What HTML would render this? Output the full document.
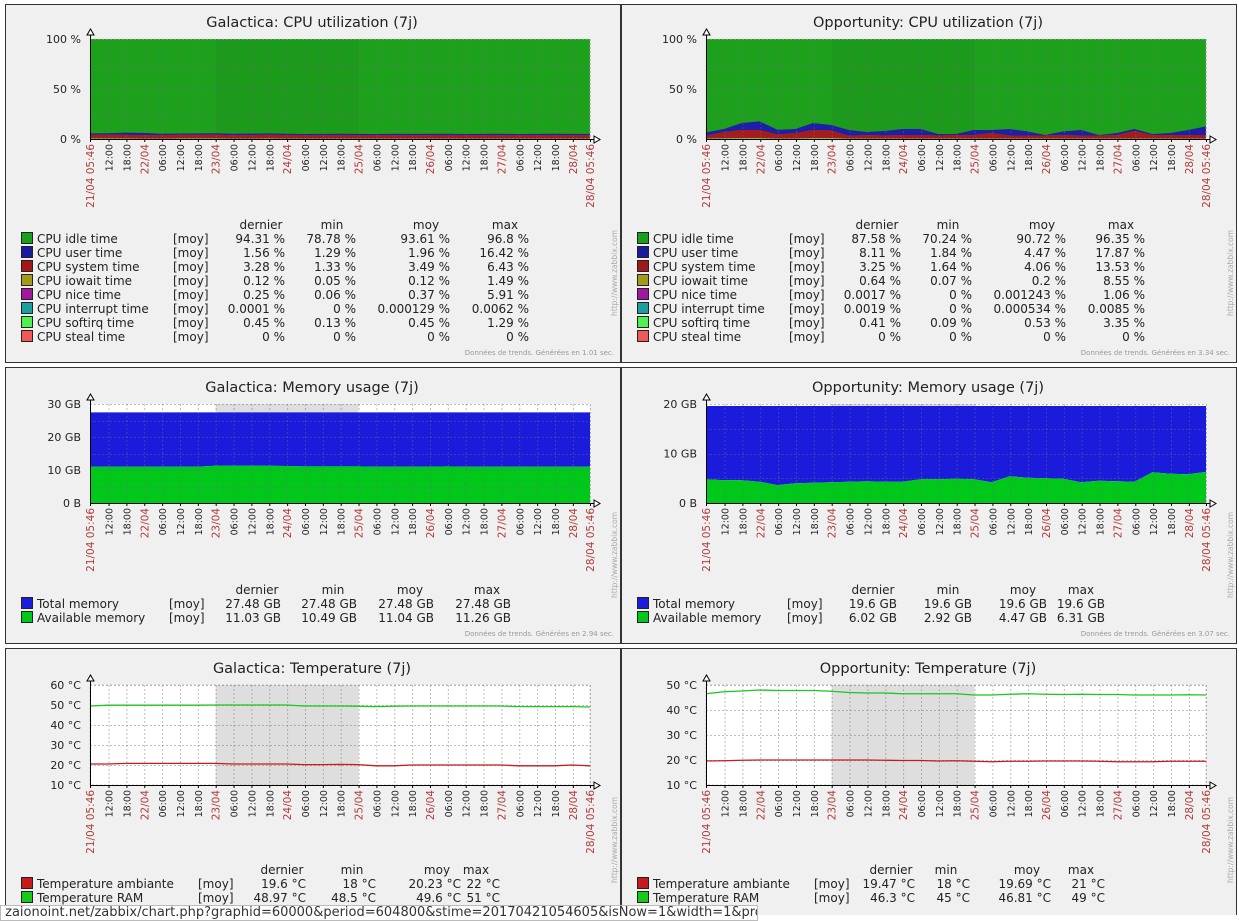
<!DOCTYPE html>
<html><head><meta charset="utf-8"><style>
html,body{margin:0;padding:0;background:#fff;}
body{width:1239px;height:915px;overflow:hidden;position:relative;font-family:"DejaVu Sans","Liberation Sans",sans-serif;}
svg text{font-family:"DejaVu Sans","Liberation Sans",sans-serif;}
#status{position:absolute;left:0;top:905px;width:756px;height:14px;background:#fff;border:1px solid #bbb;font-size:13px;line-height:13px;color:#333;overflow:hidden;white-space:nowrap;}
</style></head><body>
<svg id="page" width="1239" height="915" xmlns="http://www.w3.org/2000/svg"></svg>
<div id="status">&nbsp;zaionoint.net/zabbix/chart.php?graphid=60000&amp;period=604800&amp;stime=20170421054605&amp;isNow=1&amp;width=1&amp;profileIdx=web.screens&amp;sid=3c6d4c46ed6dbaf</div>
<script>
// time axis (hours after 21/04 05:46)
const tickLabels = ["21/04 05:46","12:00","18:00","22/04","06:00","12:00","18:00","23/04","06:00","12:00","18:00","24/04","06:00","12:00","18:00","25/04","06:00","12:00","18:00","26/04","06:00","12:00","18:00","27/04","06:00","12:00","18:00","28/04","28/04 05:46"];
const tickHours = [0,6.233,12.233,18.233,24.233,30.233,36.233,42.233,48.233,54.233,60.233,66.233,72.233,78.233,84.233,90.233,96.233,102.233,108.233,114.233,120.233,126.233,132.233,138.233,144.233,150.233,156.233,162.233,168];
const sampleHours = [0,6,12,18,24,30,36,42,48,54,60,66,72,78,84,90,96,102,108,114,120,126,132,138,144,150,156,162,168];
// Galactica CPU (%)
const galIowait = [0.6,0.6,0.6,0.3,0.3,0.6,0.6,0.6,0.3,0.3,0.6,0.3,0.2,0.2,0.2,0.2,0.2,0.2,0.2,0.2,0.2,0.2,0.2,0.2,0.2,0.2,0.2,0.2,0.2];
const galSystem = [3.6,3.6,3.6,3.6,3.6,3.6,3.6,3.6,3.6,3.6,3.6,3.6,3.6,3.6,3.6,3.6,3.6,3.6,3.6,3.6,3.6,3.6,3.6,3.6,3.6,3.6,3.6,3.6,3.6];
const galUser = [1.4,1.6,2.2,2.2,1.4,1.3,1.4,1.6,1.3,1.5,1.4,1.4,1.2,1.3,1.4,1.3,1.2,1.4,1.3,1.4,1.4,1.2,1.3,1.4,1.2,1.3,1.5,1.3,1.3];
// Opportunity CPU (%)
const oppIowait = [0.5,0.8,1,1,0.5,0.5,1,1,0.4,0.4,0.4,0.4,0.4,0.4,0.4,0.4,0.4,0.4,0.4,0.4,0.4,0.4,0.4,0.4,0.4,0.4,0.4,0.4,0.4];
const oppSystem = [2.8,6.2,8,8,4.1,5.5,8,7.6,2.9,3.6,3.1,3.6,3.6,3.1,3.6,3.6,5.6,3.1,3.1,3.1,3.6,3.1,3.1,3.6,7.6,3.6,3.6,3.6,3.6];
const oppUser = [3.3,3,7,8.6,4.7,4,7,5.4,5.7,3,4.5,6,6,1.5,1,5,3,6.5,4.1,0.5,3.6,5.5,0.5,2,2,1,2,5,8.6];
// Memory (GB)
const galTotal = [27.48,27.48,27.48,27.48,27.48,27.48,27.48,27.48,27.48,27.48,27.48,27.48,27.48,27.48,27.48,27.48,27.48,27.48,27.48,27.48,27.48,27.48,27.48,27.48,27.48,27.48,27.48,27.48,27.48];
const galAvail = [11,11,11,11,11,11,11,11.3,11.3,11.3,11.3,11.2,11.1,11.1,11.1,11.1,11,11,11,11,11.1,11,11,11,11,11,11,11,11];
const oppTotal = [19.6,19.6,19.6,19.6,19.6,19.6,19.6,19.6,19.6,19.6,19.6,19.6,19.6,19.6,19.6,19.6,19.6,19.6,19.6,19.6,19.6,19.6,19.6,19.6,19.6,19.6,19.6,19.6,19.6];
const oppAvail = [4.8,4.6,4.6,4.3,3.6,4.0,4.1,4.2,4.3,4.4,4.3,4.3,4.8,4.8,4.9,4.8,4.2,5.4,5.1,5.0,4.9,4.2,4.5,4.4,4.3,6.2,5.9,5.8,6.3];
// Temperature (°C)
const galAmb = [20.5,20.5,20.8,20.8,20.8,20.8,20.8,20.8,20.5,20.5,20.5,20.5,20.2,20.2,20.3,20.2,19.6,19.6,20,20,20,20,20,20,19.6,19.6,19.6,20,19.6];
const galRam = [49.5,49.9,49.9,49.9,49.9,49.9,49.9,50,50,50,50,50,49.5,49.5,49.5,49.4,49.2,49.4,49.5,49.5,49.5,49.5,49.5,49.5,49.2,49.2,49.2,49.2,49];
const oppAmb = [19.6,19.7,19.9,20,20,20,20,20,20,20,19.9,19.8,19.8,19.6,19.7,19.5,19.3,19.5,19.5,19.6,19.6,19.6,19.5,19.3,19.3,19.3,19.5,19.5,19.5];
const oppRam = [46.5,47.3,47.6,48,47.8,47.8,47.8,47.5,47,46.8,46.8,46.5,46.5,46.5,46.5,46,46,46.3,46.5,46.3,46.2,46.3,46.2,46.2,46,46,46,46.1,46];

const NS="http://www.w3.org/2000/svg";
const svg=document.getElementById('page');
function mk(parent,tag,attrs,txt){const e=document.createElementNS(NS,tag);for(const k in attrs)e.setAttribute(k,attrs[k]);if(txt!==undefined)e.textContent=txt;parent.appendChild(e);return e;}

const PW=500;
function xs(ox,h){return ox+h*PW/168;}

function panel(px,py,pw,ph,name){
  const g=mk(svg,'g',{});
  
  
  mk(g,'rect',{x:px+0.5,y:py+0.5,width:pw,height:ph,fill:'#f0f0f0',stroke:'#333','stroke-width':1});
  return g;
}

function axes(g,ox,top,bot,shadeColor,bg){
  if(bg){const r=mk(g,'rect',{x:ox,y:top,width:PW,height:bot-top,fill:bg});
    
    }
  if(shadeColor){const s=mk(g,'rect',{x:xs(ox,tickHours[7]),y:top,width:xs(ox,tickHours[15])-xs(ox,tickHours[7]),height:bot-top,fill:shadeColor});
    
    }
}
function grid(g,ox,top,bot,yvals,ymin,ymax){
  const gy=v=>bot-(v-ymin)/(ymax-ymin)*(bot-top);
  tickHours.forEach((h,i)=>{if(i>0)mk(g,'line',{x1:xs(ox,h)+0.5,x2:xs(ox,h)+0.5,y1:top,y2:bot,stroke:'rgba(110,110,110,0.45)','stroke-dasharray':'2,2'});});
  yvals.forEach((v)=>{mk(g,'line',{x1:ox,x2:ox+PW,y1:Math.round(gy(v))+0.5,y2:Math.round(gy(v))+0.5,stroke:'rgba(110,110,110,0.45)','stroke-dasharray':'2,2'});});
  return gy;
}
function axisFrame(g,ox,top,bot,ymin,ymax,yLabelVals,yLabels){
  const gy=v=>bot-(v-ymin)/(ymax-ymin)*(bot-top);
  const ax=mk(g,'line',{x1:ox+0.5,x2:ox+0.5,y1:top-8,y2:bot,stroke:'#000'});
  
  
  mk(g,'path',{d:`M${ox-3},${top-4} L${ox+0.5},${top-10} L${ox+4},${top-4} Z`,fill:'#fff',stroke:'#000'});
  const bx=mk(g,'line',{x1:ox,x2:ox+PW+8,y1:bot+0.5,y2:bot+0.5,stroke:'#000'});
  
  
  mk(g,'path',{d:`M${ox+PW+4},${bot-3} L${ox+PW+10},${bot+0.5} L${ox+PW+4},${bot+4} Z`,fill:'#fff',stroke:'#000'});
  yLabelVals.forEach((v,i)=>{const t=mk(g,'text',{x:ox-9,y:gy(v)+4,'text-anchor':'end','font-size':11,fill:'#222'},yLabels[i]);
    
    });
  tickHours.forEach((h,i)=>{
    const x=xs(ox,h)+4, y=bot+5;
    const red=tickLabels[i].indexOf('/')>=0;
    const t=mk(g,'text',{x:x,y:y,'text-anchor':'end','font-size':red?10.5:9.5,fill:red?'#b03c3c':'#222',transform:`rotate(-90 ${x} ${y})`},tickLabels[i]);
    
    
    mk(g,'line',{x1:xs(ox,h)+0.5,x2:xs(ox,h)+0.5,y1:bot,y2:bot+3,stroke:'#000'});
  });
}
function area(g,ox,gy,lower,upper,color,name){
  let d='M'+sampleHours.map((h,i)=>xs(ox,h)+','+gy(upper[i])).join(' L');
  for(let i=sampleHours.length-1;i>=0;i--)d+=' L'+xs(ox,sampleHours[i])+','+gy(lower[i]);
  const p=mk(g,'path',{d:d+' Z',fill:color});
  
  
}
function line(g,ox,gy,vals,color,name){
  const p=mk(g,'polyline',{points:sampleHours.map((h,i)=>xs(ox,h)+','+gy(vals[i])).join(' '),fill:'none',stroke:color,'stroke-width':1.3});
  
  
}
function title(g,cx,y,txt){const t=mk(g,'text',{x:cx,y:y,'text-anchor':'middle','font-size':14.5,fill:'#222'},txt);
  
  }
function legend(g,ox,y0,step,cols,headers,rows,colors){
  headers.forEach((hd,i)=>{const t=mk(g,'text',{x:ox+cols[i+2]-24,y:y0,'text-anchor':'middle','font-size':12,fill:'#222'},hd);
    
    });
  rows.forEach((r,j)=>{
    const y=y0+step*(j+1);
    const e=mk(g,'g',{});
    
    
    mk(e,'rect',{x:ox+16.5,y:y-10.5,width:11,height:11,fill:colors[j],stroke:'#222'});
    mk(e,'text',{x:ox+32,y:y,'font-size':12,fill:'#222'},r[0]);
    mk(e,'text',{x:ox+cols[0],y:y,'font-size':12,fill:'#222'},'[moy]');
    for(let k=1;k<5;k++)mk(e,'text',{x:ox+cols[k+1],y:y,'text-anchor':'end','font-size':12,fill:'#222'},r[k]);
  });
}
function footer(g,px,py,pw,ph,txt){
  if(txt){const t=mk(g,'text',{x:px+pw-6,y:py+ph-7,'text-anchor':'end','font-size':7,fill:'#999'},txt);
    
    }
  const x=px+pw-3,y=py+Math.min(ph-45,312);
  const z=mk(g,'text',{x:x,y:y,'font-size':7.5,fill:'#aaa',transform:`rotate(-90 ${x} ${y})`},'http://www.zabbix.com');
  
  
}

const cpuColors=['#1a9f1a','#1a1aa0','#a01818','#a09a18','#a018a0','#18a0a0','#50f050','#f05858'];
const cpuNames=['CPU idle time','CPU user time','CPU system time','CPU iowait time','CPU nice time','CPU interrupt time','CPU softirq time','CPU steal time'];
const galCpuStats=[["94.31 %","78.78 %","93.61 %","96.8 %"],["1.56 %","1.29 %","1.96 %","16.42 %"],["3.28 %","1.33 %","3.49 %","6.43 %"],["0.12 %","0.05 %","0.12 %","1.49 %"],["0.25 %","0.06 %","0.37 %","5.91 %"],["0.0001 %","0 %","0.000129 %","0.0062 %"],["0.45 %","0.13 %","0.45 %","1.29 %"],["0 %","0 %","0 %","0 %"]];
const oppCpuStats=[["87.58 %","70.24 %","90.72 %","96.35 %"],["8.11 %","1.84 %","4.47 %","17.87 %"],["3.25 %","1.64 %","4.06 %","13.53 %"],["0.64 %","0.07 %","0.2 %","8.55 %"],["0.0017 %","0 %","0.001243 %","1.06 %"],["0.0019 %","0 %","0.000534 %","0.0085 %"],["0.41 %","0.09 %","0.53 %","3.35 %"],["0 %","0 %","0 %","0 %"]];

function cpuPanel(px,name,host,iow,sys,usr,stats,secs){
  const g=panel(px,4,615,358,name);
  const ox=px+85;
  title(g,px+307,27,host+': CPU utilization (7j)');
  const gy=v=>139-v;
  mk(g,'rect',{x:ox,y:39,width:PW,height:100,fill:'#1da11d'});
  const sh=mk(g,'rect',{x:xs(ox,tickHours[7]),y:39,width:xs(ox,tickHours[15])-xs(ox,tickHours[7]),height:100,fill:'rgba(0,0,0,0.04)'});
  
  
  const zero=sampleHours.map(()=>0);
  const s1=iow, s2=iow.map((v,i)=>v+sys[i]), s3=s2.map((v,i)=>v+usr[i]);
  area(g,ox,gy,s2,s3,'#1e1ea8','area-cpu-user');
  area(g,ox,gy,s1,s2,'#a41c1c','area-cpu-system');
  area(g,ox,gy,zero,s1,'#8cb018','area-cpu-iowait');
  grid(g,ox,39,139,[100,75,50,25],0,100);
  mk(g,'rect',{x:ox,y:39,width:PW,height:100,fill:'none',stroke:'rgba(200,200,200,0.6)','stroke-dasharray':'2,2'});
  axisFrame(g,ox,39,139,0,100,[0,50,100],['0 %','50 %','100 %']);
  legend(g,px,229,14,[168,0,280,351,445,524],['dernier','min','moy','max'],cpuNames.map((n,i)=>[n].concat(stats[i])),cpuColors);
  footer(g,px,4,615,358,'Données de trends. Générées en '+secs+' sec.');
}
cpuPanel(5,'galactica-cpu-panel','Galactica',galIowait,galSystem,galUser,galCpuStats,'1.01');
cpuPanel(621,'opportunity-cpu-panel','Opportunity',oppIowait,oppSystem,oppUser,oppCpuStats,'3.34');

function memPanel(px,name,host,maxv,yv,yl,tot,av,stats,cols,secs){
  const g=panel(px,367,615,276,name);
  const ox=px+85, top=404, bot=503;
  title(g,px+307,392,host+': Memory usage (7j)');
  mk(g,'rect',{x:ox,y:top,width:PW,height:bot-top,fill:'#fff'});
  const sh=mk(g,'rect',{x:xs(ox,tickHours[7]),y:top,width:xs(ox,tickHours[15])-xs(ox,tickHours[7]),height:bot-top,fill:'#dedede'});
  
  
  const gy=v=>bot-v/maxv*(bot-top);
  const zero=sampleHours.map(()=>0);
  area(g,ox,gy,av,tot,'#1b1bdc','area-total-memory');
  area(g,ox,gy,zero,av,'#00c81a','area-available-memory');
  grid(g,ox,top,bot,yv.concat(yv.slice(0,-1).map((v,i)=>(v+yv[i+1])/2)).filter(v=>v>0),0,maxv);
  axisFrame(g,ox,top,bot,0,maxv,yv,yl);
  legend(g,px,594,14,cols,['dernier','min','moy','max'],[['Total memory'].concat(stats[0]),['Available memory'].concat(stats[1])],['#1b1bdc','#00c81a']);
  footer(g,px,367,615,276,'Données de trends. Générées en '+secs+' sec.');
}
memPanel(5,'galactica-memory-panel','Galactica',30,[0,10,20,30],['0 B','10 GB','20 GB','30 GB'],galTotal,galAvail,[["27.48 GB","27.48 GB","27.48 GB","27.48 GB"],["11.03 GB","10.49 GB","11.04 GB","11.26 GB"]],[164,0,276,352,429,506],'2.94');
memPanel(621,'opportunity-memory-panel','Opportunity',20,[0,10,20],['0 B','10 GB','20 GB'],oppTotal,oppAvail,[["19.6 GB","19.6 GB","19.6 GB","19.6 GB"],["6.02 GB","2.92 GB","4.47 GB","6.31 GB"]],[166,0,276,351,426,484],'3.07');

function tempPanel(px,name,host,ymin,ymax,yv,yl,amb,ram,stats,cols){
  const g=panel(px,648,615,280,name);
  const ox=px+85, top=685, bot=785;
  title(g,px+307,673,host+': Temperature (7j)');
  axes(g,ox,top,bot,'#dedede','#fff');
  const gy=grid(g,ox,top,bot,yv.filter(v=>v>ymin),ymin,ymax);
  mk(g,'rect',{x:ox,y:top,width:PW,height:bot-top,fill:'none',stroke:'rgba(150,150,150,0.5)','stroke-dasharray':'2,2'});
  line(g,ox,gy,ram,'#1ac81a','line-temperature-ram');
  line(g,ox,gy,amb,'#c81a1a','line-temperature-ambiante');
  axisFrame(g,ox,top,bot,ymin,ymax,yv,yl);
  legend(g,px,874,14,cols,['dernier','min','moy','max'],[['Temperature ambiante'].concat(stats[0]),['Temperature RAM'].concat(stats[1])],['#c81a1a','#1ac81a']);
  footer(g,px,648,615,280,'');
}
tempPanel(5,'galactica-temperature-panel','Galactica',10,60,[10,20,30,40,50,60],['10 °C','20 °C','30 °C','40 °C','50 °C','60 °C'],galAmb,galRam,[["19.6 °C","18 °C","20.23 °C","22 °C"],["48.97 °C","48.5 °C","49.6 °C","51 °C"]],[193,0,301,371,456,495]);
tempPanel(621,'opportunity-temperature-panel','Opportunity',10,50,[10,20,30,40,50],['10 °C','20 °C','30 °C','40 °C','50 °C'],oppAmb,oppRam,[["19.47 °C","18 °C","19.69 °C","21 °C"],["46.3 °C","45 °C","46.81 °C","49 °C"]],[193,0,294,349,430,484]);
</script>
</body></html>
